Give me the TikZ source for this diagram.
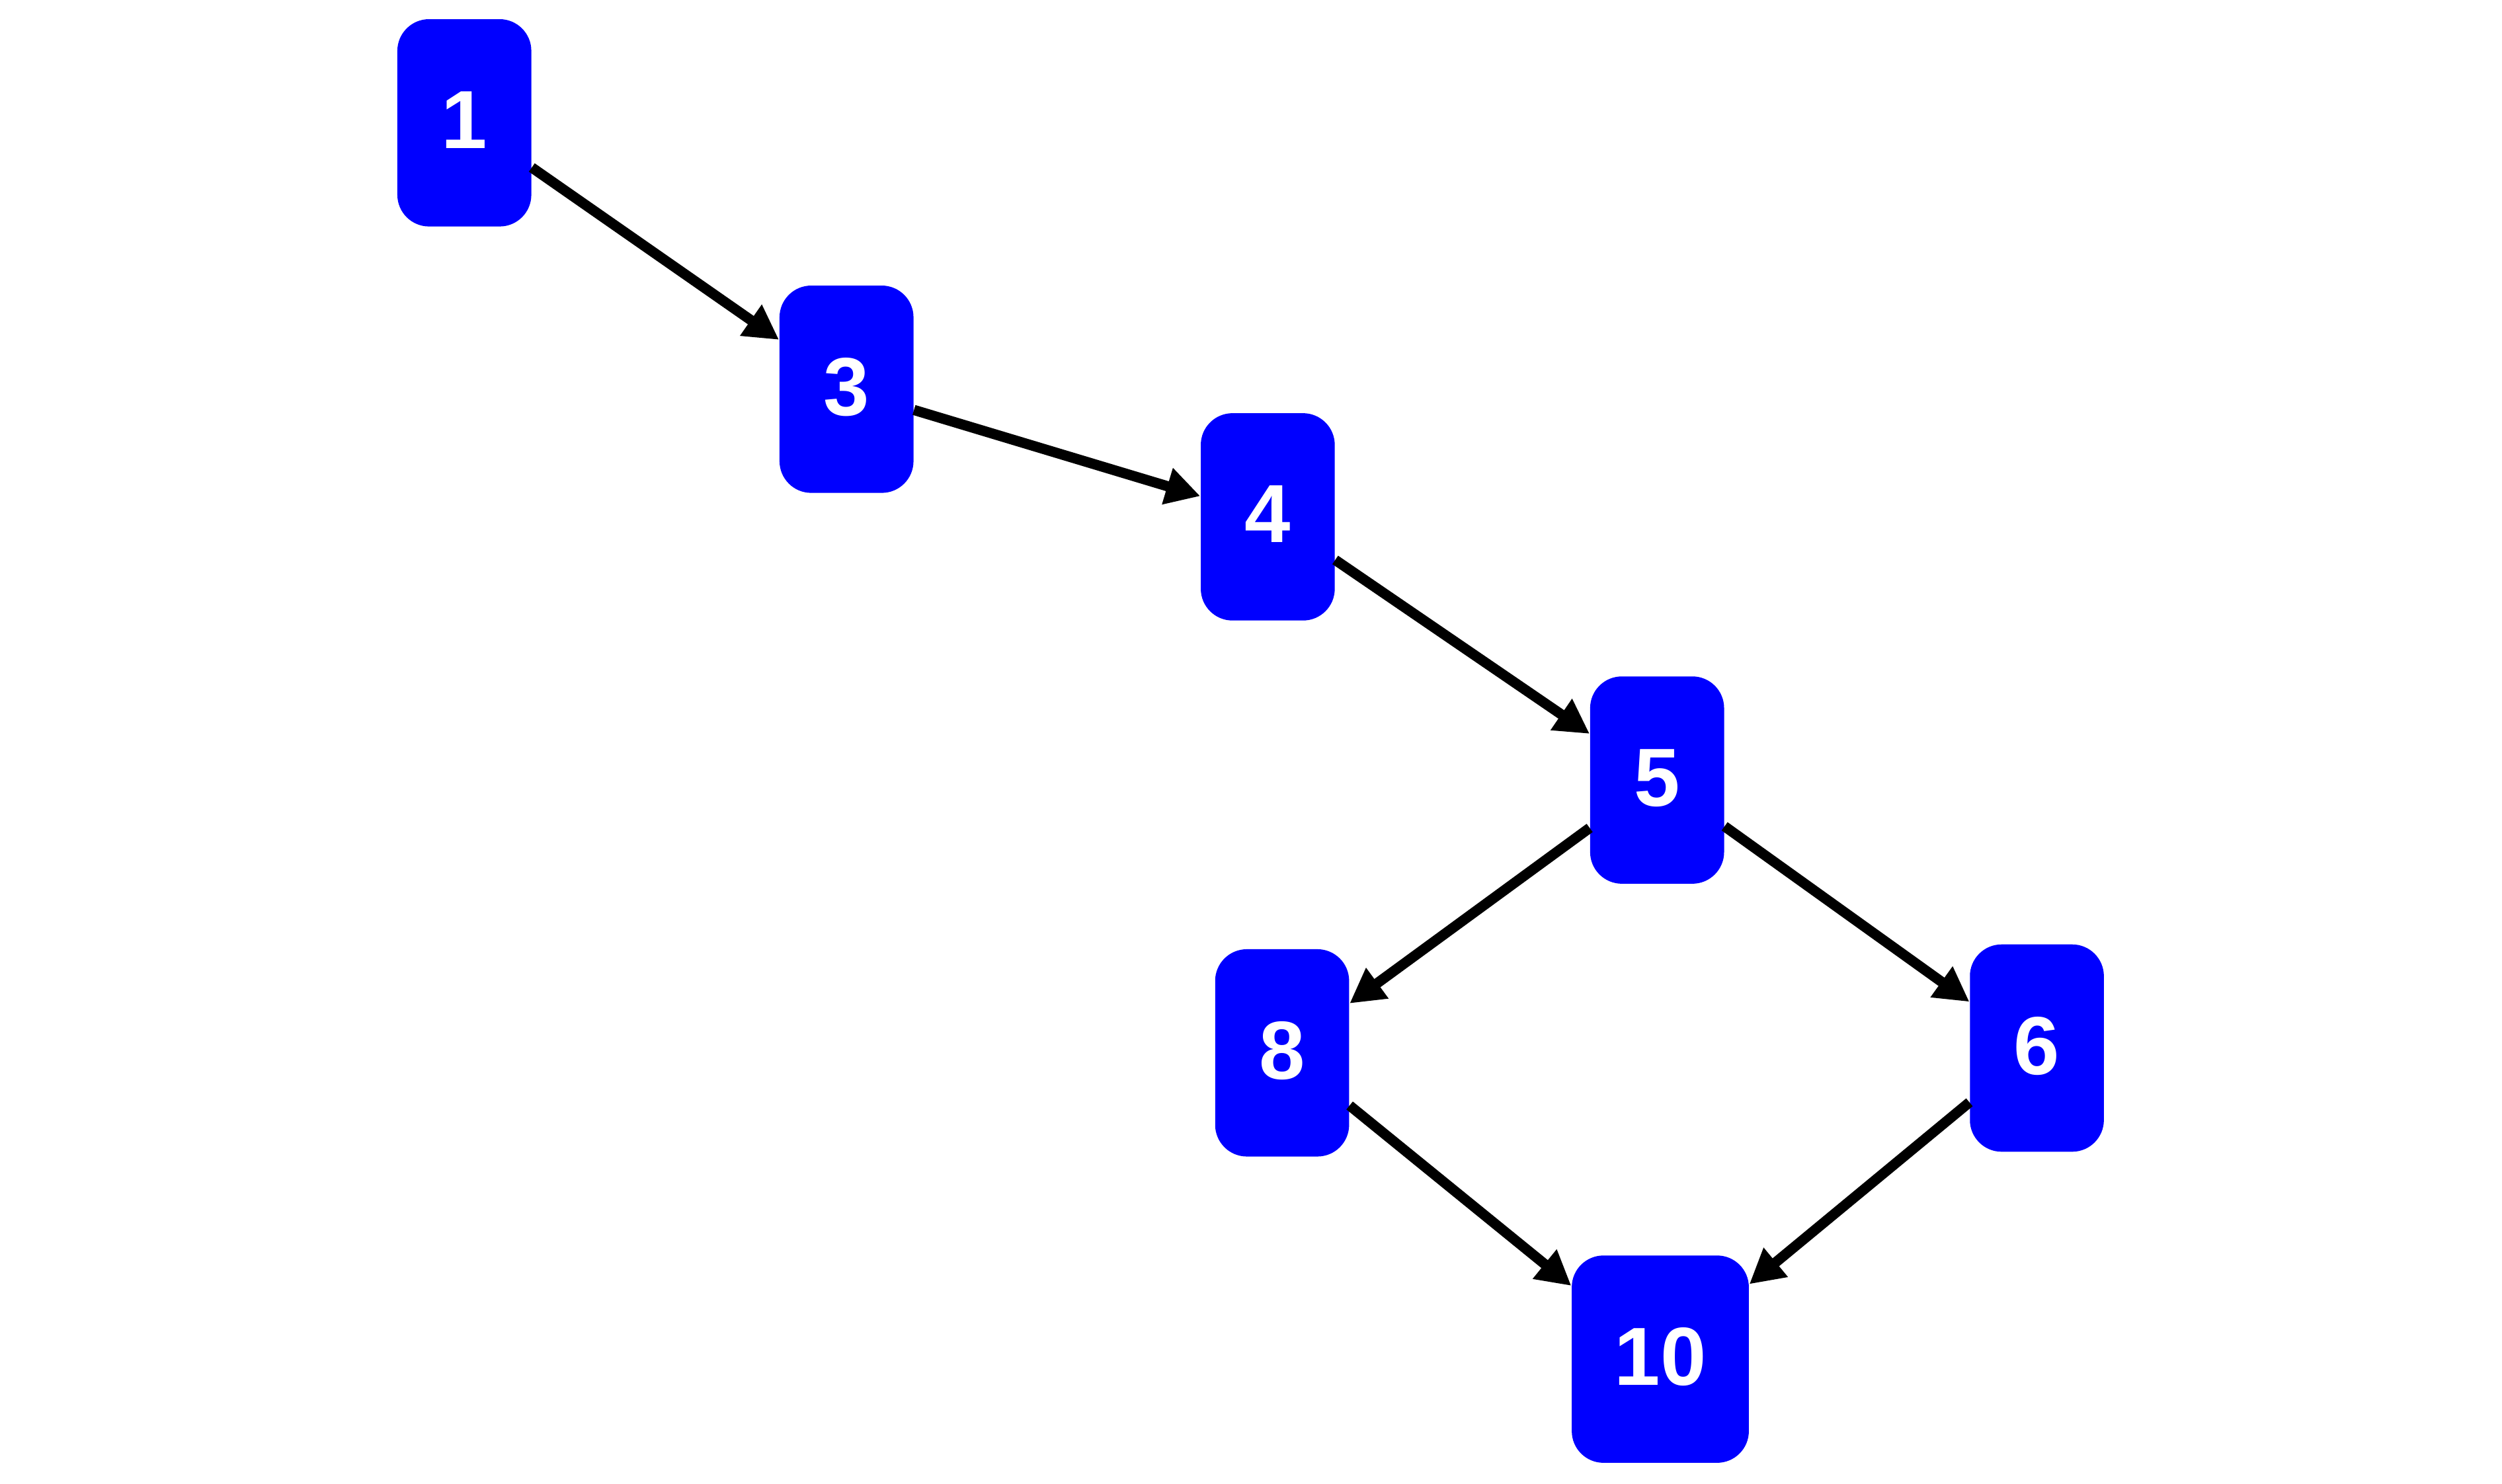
\documentclass[tikz,border=0pt]{standalone}
\usepackage{fontspec}
\setmainfont{Liberation Sans}
\usetikzlibrary{arrows.meta,calc}
\definecolor{nodeblue}{RGB}{0,0,255}
\newcommand{\lift}[1]{\raisebox{0.08cm}{#1}}
\begin{document}
\begin{tikzpicture}[x=0.024133cm,y=-0.024133cm,
  vbox/.style={fill=nodeblue, rounded corners=0.48cm, minimum width=2.027cm,
    minimum height=3.137cm, inner sep=0pt, text=white,
    font=\fontsize{35.5}{40}\selectfont\bfseries},
  wbox/.style={vbox, minimum width=2.679cm},
  edge/.style={line width=4.4pt, draw=black, -{Triangle[length=0.52cm,width=0.54cm]}}]
\useasboundingbox (0,0) rectangle (1568,930);
\node[vbox] (n1) at (291,77) {\lift{1}};
\node[vbox] (n3) at (530.5,244) {\lift{3}};
\node[vbox] (n4) at (794.5,324) {\lift{4}};
\node[vbox] (n5) at (1038.5,489) {\lift{5}};
\node[vbox] (n8) at (803.5,660) {\lift{8}};
\node[vbox] (n6) at (1276.5,657) {\lift{6}};
\node[wbox] (n10) at (1040.5,852) {\lift{10}};
\draw[edge] ($(n1.east)+(0,28)$) -- ($(n3.west)+(0,-31)$);
\draw[edge] ($(n3.east)+(0,13)$) -- ($(n4.west)+(0,-13)$);
\draw[edge] ($(n4.east)+(0,27)$) -- ($(n5.west)+(0,-29)$);
\draw[edge] ($(n5.west)+(0,30)$) -- ($(n8.east)+(0,-31)$);
\draw[edge] ($(n5.east)+(0,29)$) -- ($(n6.west)+(0,-29)$);
\draw[edge] ($(n8.east)+(0,33)$) -- ($(n10.west)+(0,-46)$);
\draw[edge] ($(n6.west)+(0,34)$) -- ($(n10.east)+(0,-47)$);
\end{tikzpicture}
\end{document}
